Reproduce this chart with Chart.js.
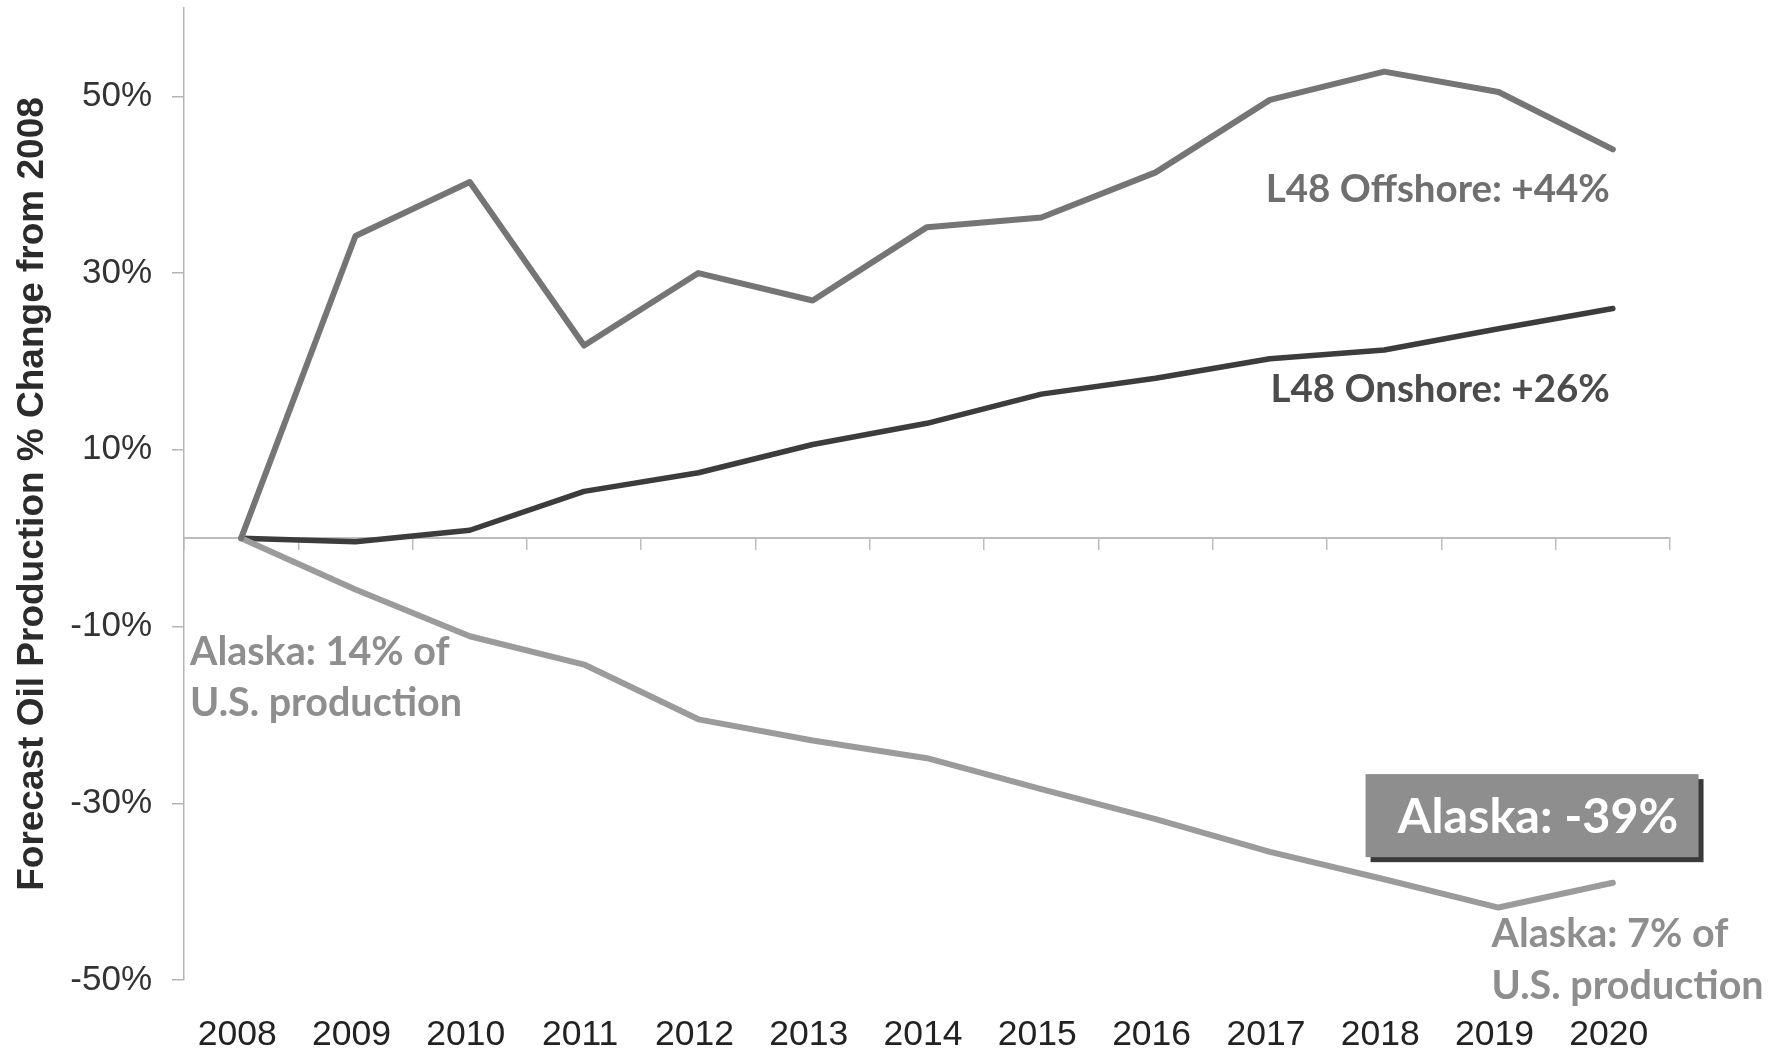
<!DOCTYPE html>
<html>
<head>
<meta charset="utf-8">
<script src="https://cdn.jsdelivr.net/npm/chart.js@4.4.1/dist/chart.umd.min.js"></script>
<style>
  html, body { margin: 0; padding: 0; background: #fff; }
  canvas { display: block; }
</style>
</head>
<body>
<canvas id="chart" width="1786" height="1050"></canvas>
<script>
// years on the x axis
const years = ["2008", "2009", "2010", "2011", "2012", "2013", "2014",
               "2015", "2016", "2017", "2018", "2019", "2020"];

// forecast production, % change from 2008
const offshore = [0, 34.2, 40.3, 21.8, 30.0, 26.9, 35.2, 36.3, 41.4, 49.6, 52.8, 50.5, 44];
const onshore  = [0, -0.4, 0.9, 5.3, 7.4, 10.6, 13.0, 16.3, 18.1, 20.3, 21.3, 23.7, 26];
const alaska   = [0, -5.8, -11.1, -14.3, -20.5, -22.9, -24.9, -28.4, -31.8, -35.5, -38.6, -41.8, -39];

// labelled ticks on the y axis
const yTicks = [-50, -30, -10, 10, 30, 50];

const noteFont = "Lato";

// text notes and the boxed Alaska total
const notesPlugin = {
    id: "notes",
    afterDatasetsDraw(chart) {
        const ctx = chart.ctx;
        const x = chart.scales.x;
        const y = chart.scales.y;
        const area = chart.chartArea;
        const last = x.getPixelForValue(years.length - 1);
        const prev = x.getPixelForValue(years.length - 2);

        ctx.save();
        ctx.textBaseline = "alphabetic";

        // L48 labels, right aligned under the last point
        ctx.font = "bold 38.5px " + noteFont;
        ctx.textAlign = "right";
        ctx.fillStyle = "#6f6f6f";
        ctx.fillText("L48 Offshore: +44%", last - 3, y.getPixelForValue(38.0));
        ctx.fillStyle = "#4b4b4b";
        ctx.fillText("L48 Onshore: +26%", last - 3, y.getPixelForValue(15.4));

        // Alaska share notes
        ctx.font = "bold 39.5px " + noteFont;
        ctx.textAlign = "left";
        ctx.fillStyle = "#8e8e8e";
        ctx.fillText("Alaska: 14% of", area.left + 6, y.getPixelForValue(-14.3));
        ctx.fillText("U.S. production", area.left + 6, y.getPixelForValue(-20.1));
        ctx.fillText("Alaska: 7% of", prev - 7, y.getPixelForValue(-46.3));
        ctx.fillText("U.S. production", prev - 7, y.getPixelForValue(-52.1));

        // boxed total with a drop shadow
        const bx = prev - 133;
        const by = y.getPixelForValue(-26.7);
        const bw = 333;
        const bh = y.getPixelForValue(-36.1) - by;
        ctx.fillStyle = "#3a3a3a";
        ctx.fillRect(bx + 5, by + 5, bw, bh);
        ctx.fillStyle = "#8e8e8e";
        ctx.fillRect(bx, by, bw, bh);
        ctx.font = "bold 48.5px " + noteFont;
        ctx.textAlign = "center";
        ctx.fillStyle = "#ffffff";
        ctx.fillText("Alaska: -39%", bx + bw / 2 + 6, y.getPixelForValue(-33.4));
        ctx.restore();
    }
};

const lineStyle = {
    borderWidth: 6,
    pointRadius: 0,
    pointHoverRadius: 0,
    tension: 0,
    borderJoinStyle: "round",
    borderCapStyle: "round",
    fill: false
};

new Chart(document.getElementById("chart"), {
    type: "line",
    data: {
        labels: years,
        datasets: [
            { ...lineStyle, label: "L48 Offshore", data: offshore, borderColor: "#757575" },
            { ...lineStyle, label: "Alaska", data: alaska, borderColor: "#9b9b9b" },
            { ...lineStyle, label: "L48 Onshore", data: onshore, borderColor: "#3c3c3c", borderWidth: 5.5 }
        ]
    },
    options: {
        responsive: false,
        animation: false,
        devicePixelRatio: 1,
        layout: { padding: { top: 8, right: 116, left: 0, bottom: 0 } },
        plugins: {
            legend: { display: false },
            tooltip: { enabled: false }
        },
        scales: {
            x: {
                type: "category",
                offset: true,
                afterFit: s => { s.height = 70; },
                border: { display: false },
                grid: { display: false },
                ticks: {
                    padding: 26,
                    labelOffset: -4,
                    autoSkip: false,
                    maxRotation: 0,
                    color: "#222",
                    font: { family: "Liberation Sans", size: 35.5 }
                }
            },
            // zero line with tick marks between the years
            zero: {
                type: "category",
                axis: "x",
                position: { y: 0 },
                offset: true,
                border: { color: "#bdbdbd", width: 2 },
                grid: { offset: true, drawOnChartArea: false, tickLength: 11, color: "#bdbdbd", lineWidth: 1.5 },
                ticks: { display: false }
            },
            y: {
                min: -50,
                max: 60,
                afterBuildTicks: s => { s.ticks = yTicks.map(v => ({ value: v })); },
                afterFit: s => {
                    s.width = 184;
                    s.paddingTop = 0;
                    s.paddingBottom = 0;
                },
                border: { color: "#b5b5b5", width: 1.5 },
                grid: { drawOnChartArea: false, tickLength: 12, color: "#b5b5b5", lineWidth: 1.5 },
                ticks: {
                    padding: 20,
                    color: "#333",
                    font: { family: "Liberation Sans", size: 35 },
                    callback: v => v + "%"
                },
                title: {
                    display: true,
                    text: "Forecast Oil Production % Change from 2008",
                    color: "#2b2b2b",
                    font: { family: "Liberation Sans", size: 37, weight: "bold" },
                    padding: { top: 11, bottom: 0 }
                }
            }
        }
    },
    plugins: [notesPlugin]
});
</script>
</body>
</html>
